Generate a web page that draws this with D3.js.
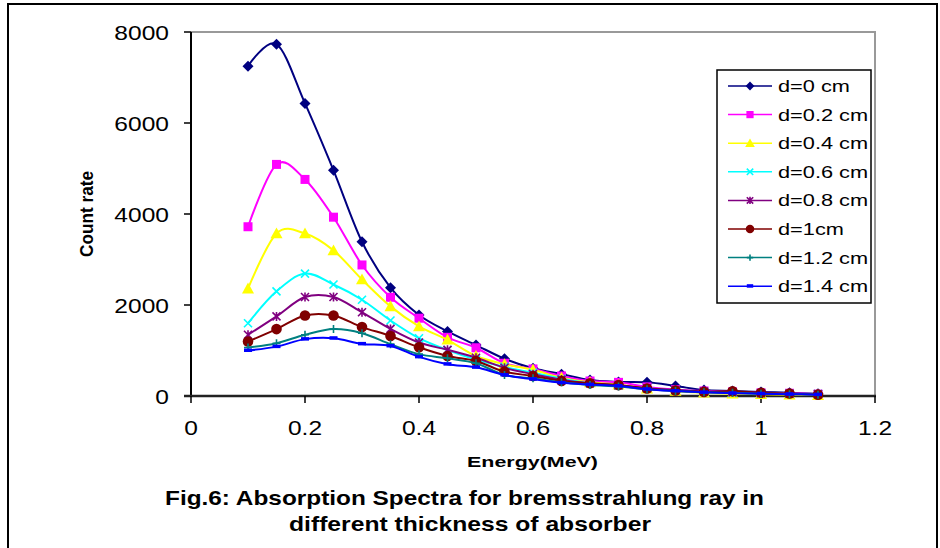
<!DOCTYPE html>
<html>
<head>
<meta charset="utf-8">
<script src="https://cdn.jsdelivr.net/npm/d3@7"></script>
<style>
  html, body { margin: 0; padding: 0; background: #fff; }
  svg { display: block; }
  text { font-family: "Liberation Sans", Arial, sans-serif; fill: #000; }
</style>
</head>
<body>
<svg id="chart" width="940" height="548"></svg>
<script>
// ---------- data ----------
const energy = [0.1,0.15,0.2,0.25,0.3,0.35,0.4,0.45,0.5,0.55,0.6,0.65,0.7,0.75,0.8,0.85,0.9,0.95,1.0,1.05,1.1];
const seriesNames = ["d=0 cm","d=0.2 cm","d=0.4 cm","d=0.6 cm","d=0.8 cm","d=1cm","d=1.2 cm","d=1.4 cm"];
const d0  = [7250,7730,6430,4960,3390,2380,1780,1420,1120,820,610,480,350,310,300,220,130,110,90,70,50];
const d02 = [3720,5090,4760,3930,2880,2170,1710,1290,1060,720,595,440,330,300,200,140,110,90,70,60,40];
const d04 = [2360,3570,3570,3200,2560,1970,1530,1235,880,700,575,400,300,250,160,110,70,50,40,30,20];
const d06 = [1600,2300,2690,2450,2115,1660,1270,1010,800,640,510,380,280,230,170,120,90,70,60,50,40];
const d08 = [1345,1750,2175,2175,1840,1475,1175,1015,840,620,480,360,280,230,170,130,100,80,60,50,40];
const d10 = [1197,1470,1770,1770,1515,1320,1070,880,770,535,440,330,280,240,165,120,90,105,70,55,30];
const d12 = [1065,1160,1345,1470,1380,1140,920,830,720,460,390,300,240,210,150,110,80,70,50,40,30];
const d14 = [1000,1085,1250,1270,1145,1100,860,700,630,460,370,290,250,220,150,110,80,60,50,40,30];
const seriesValues = [d0,d02,d04,d06,d08,d10,d12,d14];
const xTicks = [0,0.2,0.4,0.6,0.8,1,1.2];
const yTicks = [0,2000,4000,6000,8000];
const colors = ["#000080","#FF00FF","#FFFF00","#00FFFF","#800080","#800000","#008080","#0000FF"];
const markers = ["diamond","square","triangle","x","star","circle","plus","dash"];

// ---------- layout ----------
const svg = d3.select("#chart");
const x = d3.scaleLinear().domain([0,1.2]).range([191,875]);
const y = d3.scaleLinear().domain([0,8000]).range([396,32]);

// outer border
svg.append("rect").attr("x",8).attr("y",4).attr("width",929).attr("height",560)
  .attr("fill","none").attr("stroke","#000").attr("stroke-width",2);

// plot area border (top, right) grey
svg.append("path").attr("d",`M${x(0)},${y(8000)}H${x(1.2)}V${y(0)}`)
  .attr("fill","none").attr("stroke","#999").attr("stroke-width",2);

// helper for horizontally stretched text
function stxt(g, px, py, str, size, anchor, sx, weight){
  return g.append("text")
    .attr("transform",`translate(${px},${py}) scale(${sx},1)`)
    .attr("text-anchor",anchor)
    .attr("font-size",size)
    .attr("font-weight",weight||"normal")
    .text(str);
}

// y axis
const yAxis = svg.append("g");
yAxis.append("line").attr("x1",x(0)).attr("x2",x(0)).attr("y1",y(8000)).attr("y2",y(0)+1)
  .attr("stroke","#000").attr("stroke-width",2);
yTicks.forEach(t=>{
  yAxis.append("line").attr("x1",x(0)-7).attr("x2",x(0)).attr("y1",y(t)).attr("y2",y(t))
    .attr("stroke","#000").attr("stroke-width",1.5);
  stxt(yAxis, 169, y(t)+7.5, d3.format("d")(t), 21, "end", 1.17);
});

// x axis
const xAxis = svg.append("g");
xAxis.append("line").attr("x1",x(0)-7).attr("x2",x(1.2)+1).attr("y1",y(0)).attr("y2",y(0))
  .attr("stroke","#222").attr("stroke-width",2.5);
xTicks.forEach(t=>{
  xAxis.append("line").attr("x1",x(t)).attr("x2",x(t)).attr("y1",y(0)).attr("y2",y(0)+7)
    .attr("stroke","#000").attr("stroke-width",1.5);
  stxt(xAxis, x(t), 435, String(t), 21, "middle", 1.17);
});

// axis titles and caption
svg.append("text").attr("transform","translate(93,257) rotate(-90) scale(1,1.2)")
  .attr("font-size",16).attr("font-weight","bold")
  .attr("textLength",86).attr("lengthAdjust","spacingAndGlyphs").text("Count rate");
svg.append("text").attr("x",467).attr("y",467).attr("font-size",15).attr("font-weight","bold")
  .attr("textLength",131).attr("lengthAdjust","spacingAndGlyphs").text("Energy(MeV)");
svg.append("text").attr("x",165).attr("y",505).attr("font-size",21).attr("font-weight","bold")
  .attr("textLength",599).attr("lengthAdjust","spacingAndGlyphs")
  .text("Fig.6: Absorption Spectra for bremsstrahlung ray in");
svg.append("text").attr("x",289).attr("y",531).attr("font-size",21).attr("font-weight","bold")
  .attr("textLength",362).attr("lengthAdjust","spacingAndGlyphs")
  .text("different thickness of absorber");

// marker drawing
function drawMarker(g, type, cx, cy, color, s){
  s = s || 1;
  switch(type){
    case "diamond": {
      const r = 5.5*s;
      g.append("path").attr("d",`M${cx},${cy-r}L${cx+r},${cy}L${cx},${cy+r}L${cx-r},${cy}Z`).attr("fill",color);
      break; }
    case "square": {
      const r = 4.5*s;
      g.append("rect").attr("x",cx-r).attr("y",cy-r).attr("width",2*r).attr("height",2*r).attr("fill",color);
      break; }
    case "triangle": {
      const r = 6*s;
      g.append("path").attr("d",`M${cx},${cy-r}L${cx+r},${cy+r*0.8}L${cx-r},${cy+r*0.8}Z`).attr("fill",color);
      break; }
    case "x": {
      const r = 4*s;
      g.append("path").attr("d",`M${cx-r},${cy-r}L${cx+r},${cy+r}M${cx-r},${cy+r}L${cx+r},${cy-r}`)
        .attr("stroke",color).attr("stroke-width",1.6).attr("fill","none");
      break; }
    case "star": {
      const r = 4*s;
      g.append("path").attr("d",`M${cx-r},${cy-r}L${cx+r},${cy+r}M${cx-r},${cy+r}L${cx+r},${cy-r}M${cx},${cy-r-0.5}L${cx},${cy+r+0.5}`)
        .attr("stroke",color).attr("stroke-width",1.6).attr("fill","none");
      break; }
    case "circle":
      g.append("circle").attr("cx",cx).attr("cy",cy).attr("r",5.3*s).attr("fill",color);
      break;
    case "plus": {
      const r = 4*s;
      g.append("path").attr("d",`M${cx-r},${cy}L${cx+r},${cy}M${cx},${cy-r}L${cx},${cy+r}`)
        .attr("stroke",color).attr("stroke-width",1.6).attr("fill","none");
      break; }
    case "dash":
      g.append("rect").attr("x",cx-4*s).attr("y",cy-2).attr("width",8*s).attr("height",3.5).attr("fill",color);
      break;
  }
}

// series
const line = d3.line().x(d=>x(d[0])).y(d=>y(d[1])).curve(d3.curveCatmullRom.alpha(0));
const plot = svg.append("g");
seriesValues.forEach((vals,i)=>{
  const pts = energy.map((e,j)=>[e, vals[j]]);
  const g = plot.append("g");
  g.append("path").attr("d",line(pts)).attr("fill","none")
    .attr("stroke",colors[i]).attr("stroke-width",2);
  pts.forEach(p=>drawMarker(g, markers[i], x(p[0]), y(p[1]), colors[i], 1));
});

// legend
const lg = svg.append("g");
lg.append("rect").attr("x",717).attr("y",70).attr("width",154).attr("height",233)
  .attr("fill","#fff").attr("stroke","#000").attr("stroke-width",1.5);
seriesNames.forEach((name,i)=>{
  const cy = 86 + i*28.6;
  lg.append("line").attr("x1",728).attr("x2",772).attr("y1",cy).attr("y2",cy)
    .attr("stroke",colors[i]).attr("stroke-width",1.5);
  drawMarker(lg, markers[i], 750, cy, colors[i], 0.8);
  stxt(lg, 778, cy+6, name, 17, "start", 1.28);
});
</script>
</body>
</html>
